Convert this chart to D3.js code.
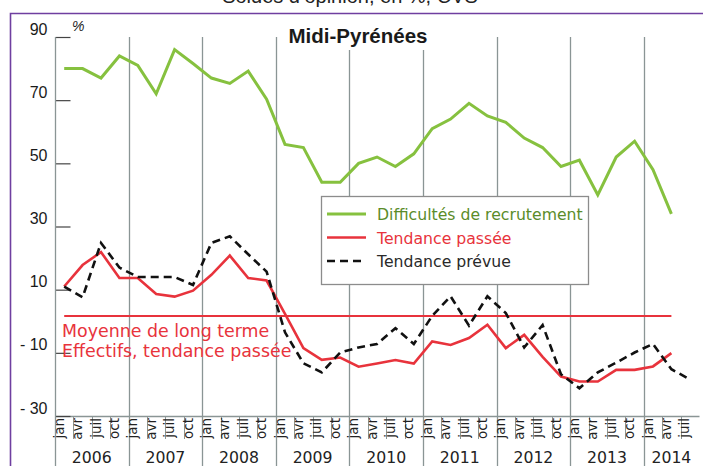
<!DOCTYPE html>
<html>
<head>
<meta charset="utf-8">
<script src="https://cdn.jsdelivr.net/npm/d3@7/dist/d3.min.js"></script>
<style>
  html, body { margin: 0; padding: 0; background: #fff; }
  svg { display: block; }
</style>
</head>
<body>
<svg id="chart" width="703" height="466"></svg>
<script>
// ---- data ----
const quarters = ["jan", "avr", "juil", "oct"];
const years = [2006, 2007, 2008, 2009, 2010, 2011, 2012, 2013, 2014];
const yTicks = [90, 70, 50, 30, 10, -10, -30];
const yTickLabels = ["90", "70", "50", "30", "10", "- 10", "- 30"];
const nQuarters = 35; // jan 2006 .. juil 2014

const difficultes = [80, 80, 77, 84, 81, 72, 86, 81.6, 77, 75.3, 79.2, 70.3,
  56, 55, 44, 44, 50, 52, 49, 53, 61, 64, 69, 65, 63, 58, 55, 49, 51, 40, 52, 57, 48, 34];
const tendancePassee = [11, 17.8, 21.9, 13.7, 13.7, 8.6, 7.8, 9.7, 14.7, 20.8, 13.7, 12.9,
  2.3, -8.5, -12.2, -11.5, -14.4, -13.4, -12.3, -13.4, -6.4, -7.5, -5.3, -1.1, -8.5, -4.3,
  -11.3, -17.5, -19.1, -19.1, -15.4, -15.4, -14.3, -10.1];
const tendancePrevue = [11, 7.6, 24.8, 17, 14, 14, 14, 11.5, 24.8, 26.9, 21.2, 15.7,
  -3.5, -13.3, -16.2, -9.9, -8.3, -7.2, -2.2, -7.2, 1.7, 7.9, -1.4, 7.9, 2.6, -8.3,
  -1.2, -16.8, -21.2, -16.2, -13.1, -9.9, -7.2, -15.2, -18.4];
const moyenneLongTerme = 1.7;
const moyenneSpan = [0, 33];

const subtitle = "Soldes d’opinion, en %, CVS";
const title = "Midi-Pyrénées";
const legendItems = [
  { label: "Difficultés de recrutement", color: "#86c13f", text: "#5b8c2a", dash: null, w: 3 },
  { label: "Tendance passée", color: "#e8333c", text: "#e8333c", dash: null, w: 2.6 },
  { label: "Tendance prévue", color: "#111", text: "#2a2a2a", dash: "8,5", w: 2.6 }
];
const noteLines = ["Moyenne de long terme", "Effectifs, tendance passée"];

// ---- layout ----
const svg = d3.select("#chart");
const pL = 55, pR = 699, pT = 37, pB = 416;
const gridColor = "#8a9595";

const x = d3.scaleBand().domain(d3.range(nQuarters)).range([pL, pR]);
const cx = i => x(i) + x.bandwidth() / 2;
const y = d3.scaleLinear().domain([-30, 90]).range([pB, pT]);

// outer purple frame
svg.append("path")
  .attr("d", `M10.5,466 V13.5 H703`)
  .attr("fill", "none").attr("stroke", "#6f3fa0").attr("stroke-width", 1.6);

// subtitle (cut at top, as in the original)
svg.append("text").attr("x", 350).attr("y", 3)
  .attr("text-anchor", "middle")
  .attr("font-family", "Liberation Sans, Arial, sans-serif")
  .attr("font-size", 20).attr("fill", "#222").text(subtitle);

// year grid lines
years.slice(1).forEach((yr, k) => {
  const xx = Math.round(x((k + 1) * 4)) + 0.5;
  svg.append("line").attr("x1", xx).attr("x2", xx).attr("y1", pT).attr("y2", 466)
    .attr("stroke", gridColor).attr("stroke-width", 1.3);
});
// quarter separators in label row
d3.range(nQuarters).filter(i => i % 4 !== 0).forEach(i => {
  const xx = Math.round(x(i)) + 0.5;
  svg.append("line").attr("x1", xx).attr("x2", xx).attr("y1", pB).attr("y2", pB + 23)
    .attr("stroke", gridColor).attr("stroke-width", 1);
});

// x axis (quarter labels)
const xAxis = d3.axisBottom(x).tickSize(0).tickFormat(i => quarters[i % 4]);
const gx = svg.append("g").attr("transform", `translate(0,${pB})`).call(xAxis);
gx.select(".domain").attr("stroke", gridColor).attr("stroke-width", 1.3);
gx.selectAll("text")
  .attr("x", 0).attr("y", 0).attr("dy", null)
  .attr("text-anchor", "end")
  .attr("transform", "translate(-0.5,2) rotate(-90)")
  .attr("font-family", "DejaVu Sans, Verdana, sans-serif")
  .attr("font-size", 13.5).attr("fill", "#222");

// year labels
years.forEach((yr, k) => {
  const x0 = x(k * 4), x1 = (k * 4 + 4 <= nQuarters - 1) ? x(k * 4 + 4) : pR;
  svg.append("text").attr("x", (x0 + x1) / 2).attr("y", 463)
    .attr("text-anchor", "middle")
    .attr("font-family", "DejaVu Sans, Verdana, sans-serif")
    .attr("font-size", 15.7).attr("fill", "#222").text(yr);
});

// y axis
const yAxis = d3.axisLeft(y).tickValues(yTicks).tickSizeInner(-15).tickSizeOuter(0).tickPadding(8)
  .tickFormat((d, i) => yTickLabels[i]);
const gy = svg.append("g").attr("transform", `translate(${pL + 0.5},0)`).call(yAxis);
gy.select(".domain").remove();
gy.selectAll(".tick line").attr("stroke", "#444").attr("stroke-width", 1.2);
gy.selectAll("text").attr("dy", -3).attr("x", -8)
  .attr("font-family", "Liberation Sans, Arial, sans-serif")
  .attr("font-size", 16).attr("fill", "#1a1a1a");
svg.append("line").attr("x1", pL + 0.5).attr("x2", pL + 0.5).attr("y1", pT).attr("y2", 466)
  .attr("stroke", gridColor).attr("stroke-width", 1.3);

svg.append("text").attr("x", 72).attr("y", 31)
  .attr("font-family", "Liberation Sans, Arial, sans-serif")
  .attr("font-size", 14).attr("font-style", "italic").attr("fill", "#222").text("%");

// long-term average
svg.append("line")
  .attr("x1", cx(moyenneSpan[0])).attr("x2", cx(moyenneSpan[1]))
  .attr("y1", y(moyenneLongTerme)).attr("y2", y(moyenneLongTerme))
  .attr("stroke", "#e8333c").attr("stroke-width", 2);

// note text
noteLines.forEach((t, i) => {
  svg.append("text").attr("x", 62).attr("y", 337 + i * 20)
    .attr("font-family", "DejaVu Sans, Verdana, sans-serif")
    .attr("font-size", 17.4).attr("fill", "#e8333c").text(t);
});

// series
const line = d3.line().x((d, i) => cx(i)).y(d => y(d));
svg.append("path").datum(difficultes).attr("d", line)
  .attr("fill", "none").attr("stroke", "#86c13f").attr("stroke-width", 3);
svg.append("path").datum(tendancePassee).attr("d", line)
  .attr("fill", "none").attr("stroke", "#e8333c").attr("stroke-width", 2.6);
svg.append("path").datum(tendancePrevue).attr("d", line)
  .attr("fill", "none").attr("stroke", "#111").attr("stroke-width", 2.6).attr("stroke-dasharray", "8,5");

// legend
const lg = svg.append("g");
lg.append("rect").attr("x", 321.5).attr("y", 196.5).attr("width", 267).attr("height", 88)
  .attr("fill", "#fff").attr("stroke", "#8c8c8c").attr("stroke-width", 1.3);
legendItems.forEach((it, i) => {
  const yy = 214 + i * 23.5;
  lg.append("line").attr("x1", 327).attr("x2", 366).attr("y1", yy).attr("y2", yy)
    .attr("stroke", it.color).attr("stroke-width", it.w).attr("stroke-dasharray", it.dash);
  lg.append("text").attr("x", 377).attr("y", yy + 6)
    .attr("font-family", "DejaVu Sans, Verdana, sans-serif")
    .attr("font-size", 15.7).attr("fill", it.text).text(it.label);
});

// title
const tg = svg.append("g");
const tt = tg.append("text").attr("x", 358).attr("y", 43)
  .attr("text-anchor", "middle")
  .attr("font-family", "Liberation Sans, Arial, sans-serif")
  .attr("font-weight", "bold").attr("font-size", 20.5).attr("fill", "#1a1a1a").text(title);
const bb = tt.node().getBBox();
tg.insert("rect", "text").attr("x", bb.x - 2).attr("y", bb.y).attr("width", bb.width + 2).attr("height", bb.height + 3)
  .attr("fill", "#fff");
</script>
</body>
</html>
